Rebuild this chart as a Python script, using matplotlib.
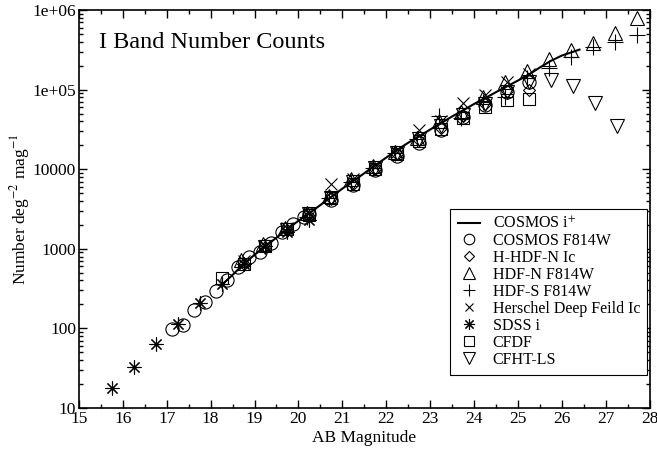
import matplotlib
matplotlib.use('Agg')
import matplotlib.pyplot as plt
from matplotlib.ticker import FixedLocator, LogLocator, NullFormatter, FuncFormatter
import numpy as np

plt.rcParams['font.family'] = ['Liberation Serif', 'DejaVu Serif']
plt.rcParams['mathtext.fontset'] = 'stix'

# COSMOS i+ counts (smooth curve)
cosmos_i_mag = [18.25, 18.5, 18.75, 19.0, 19.25, 19.5, 19.75, 20.0, 20.25, 20.5, 20.75,
                21.0, 21.25, 21.5, 21.75, 22.0, 22.25, 22.5, 22.75, 23.0, 23.25, 23.5,
                23.75, 24.0, 24.25, 24.5, 24.75, 25.0, 25.25, 25.5, 25.75, 26.0, 26.25, 26.4]
cosmos_i_n = [350, 470, 640, 840, 1080, 1380, 1780, 2250, 2800, 3550, 4500,
              5700, 7100, 8900, 11200, 14000, 17500, 21500, 26000, 31500, 38000, 46000,
              55000, 66000, 78000, 93000, 110000, 130000, 155000, 190000, 230000, 268000, 298000, 318000]

# COSMOS F814W
f814_mag = [17.125, 17.375, 17.625, 17.875, 18.125, 18.375, 18.625, 18.875, 19.125, 19.375,
            19.625, 19.875, 20.125, 20.25, 20.75, 21.25, 21.75, 22.25, 22.75, 23.25, 23.75,
            24.25, 24.75, 25.25]
f814_n = [98, 109, 170, 216, 295, 405, 596, 795, 915, 1200,
          1620, 2040, 2520, 2750, 4100, 6300, 9700, 14500, 21500, 31000, 45000,
          64000, 92000, 125000]

# H-HDF-N Ic
hhdfn_mag = [18.75, 19.25, 19.75, 20.25, 20.75, 21.25, 21.75, 22.25, 22.75, 23.25, 23.75,
             24.25, 24.75, 25.25]
hhdfn_n = [650, 1050, 1700, 2600, 4300, 6600, 10200, 15500, 23000, 33000, 46000,
           66000, 95000, 98000]

# HDF-N F814W
hdfn_mag = [18.7, 19.2, 19.7, 20.2, 20.7, 21.2, 21.7, 22.2, 22.7, 23.2, 23.7, 24.2, 24.7,
            25.2, 25.7, 26.2, 26.7, 27.2, 27.7]
hdfn_n = [720, 1150, 1800, 2800, 4600, 7500, 11000, 16500, 25000, 40000, 52000, 80000, 123000,
          170000, 245000, 310000, 390000, 510000, 790000]

# HDF-S F814W
hdfs_mag = [20.2, 20.7, 21.2, 21.7, 22.2, 22.7, 23.2, 23.7, 24.2, 24.7, 25.2, 25.7, 26.2,
            26.7, 27.2, 27.7]
hdfs_n = [2500, 4300, 7000, 10500, 16000, 24000, 46000, 44000, 70000, 80000, 138000, 186000, 260000,
          340000, 400000, 490000]

# Herschel Deep Field Ic
hdf_mag = [18.75, 19.25, 19.75, 20.25, 20.75, 21.25, 21.75, 22.25, 22.75, 23.25, 23.75,
           24.25, 24.75, 25.25]
hdf_n = [700, 1100, 1800, 2800, 6600, 7500, 10800, 16500, 31000, 40000, 68000,
         85000, 125000, 155000]

# SDSS i
sdss_mag = [15.75, 16.25, 16.75, 17.25, 17.75, 18.25, 18.75, 19.25, 19.75, 20.25]
sdss_n = [18, 33, 64, 114, 209, 361, 638, 1070, 1620, 2290]

# CFDF
cfdf_mag = [18.25, 18.75, 19.25, 19.75, 20.25, 20.75, 21.25, 21.75, 22.25, 22.75, 23.25,
            23.75, 24.25, 24.75, 25.25]
cfdf_n = [435, 640, 1080, 1750, 2650, 4300, 6500, 10000, 15500, 22500, 32000,
          44000, 60000, 73000, 77000]

# CFHT-LS
cfht_mag = [19.25, 19.75, 20.25, 20.75, 21.25, 21.75, 22.25, 22.75, 23.25, 23.75, 24.25,
            24.75, 25.25, 25.75, 26.25, 26.75, 27.25]
cfht_n = [1050, 1700, 2700, 4400, 6900, 10500, 16000, 24000, 35000, 48000, 66000,
          92000, 125000, 132000, 110000, 67000, 35000]

fig = plt.figure(figsize=(6.57, 4.5), dpi=100)
ax = fig.add_axes([0.120, 0.0933, 0.869, 0.8845])

mk = dict(linestyle='none', markerfacecolor='none', markeredgecolor='black',
          markeredgewidth=0.8, color='black')

ax.plot(cosmos_i_mag, cosmos_i_n, '-', color='black', lw=1.5, label='COSMOS i$^{+}$')
ax.plot(f814_mag, f814_n, marker='o', ms=9.5, label='COSMOS F814W', **mk)
ax.plot(hhdfn_mag, hhdfn_n, marker='D', ms=6.5, label='H-HDF-N Ic', **mk)
ax.plot(hdfn_mag, hdfn_n, marker='^', ms=10, label='HDF-N F814W', **mk)
ax.plot(hdfs_mag, hdfs_n, marker='+', ms=11, label='HDF-S F814W', **mk)
ax.plot(hdf_mag, hdf_n, marker='x', ms=8, label='Herschel Deep Feild Ic', **mk)
ax.plot(sdss_mag, sdss_n, marker=(8, 2, 0), ms=10, label='SDSS i', **mk)
ax.plot(cfdf_mag, cfdf_n, marker='s', ms=8.5, label='CFDF', **mk)
ax.plot(cfht_mag, cfht_n, marker='v', ms=10, label='CFHT-LS', **mk)

ax.set_yscale('log')
ax.set_xlim(15, 28)
ax.set_ylim(10, 1e6)

ax.xaxis.set_major_locator(FixedLocator(np.arange(15, 29, 1)))
ax.xaxis.set_minor_locator(FixedLocator(np.arange(15.5, 28, 1)))
ax.yaxis.set_major_locator(LogLocator(base=10, numticks=10))
ax.yaxis.set_minor_locator(LogLocator(base=10, subs=np.arange(2, 10), numticks=20))
ax.yaxis.set_minor_formatter(NullFormatter())


def yfmt(v, pos):
    if v >= 1e5:
        return '1e+%02d' % int(round(np.log10(v)))
    return '%d' % int(round(v))


ax.yaxis.set_major_formatter(FuncFormatter(yfmt))

ax.tick_params(which='both', direction='in', top=True, right=True, width=1.0, labelsize=12.5)
ax.tick_params(which='major', length=5.5, pad=2)
ax.tick_params(which='minor', length=3)
for s in ax.spines.values():
    s.set_linewidth(1.2)

ax.set_xlabel('AB Magnitude', fontsize=12.5, labelpad=2)
ax.set_ylabel('Number deg$^{-2}$ mag$^{-1}$', fontsize=12.5, labelpad=0)

ax.text(0.036, 0.905, 'I Band Number Counts', transform=ax.transAxes, fontsize=17.5,
        ha='left', va='baseline')

leg = ax.legend(loc='lower right', bbox_to_anchor=(0.996, 0.083), fontsize=11.5,
                frameon=True, fancybox=False, edgecolor='black', framealpha=1,
                borderaxespad=0, labelspacing=0.06, handlelength=1.4, handletextpad=0.8,
                borderpad=0.45, markerscale=0.8)
leg.get_frame().set_linewidth(0.8)

fig.savefig('out.png', dpi=100)
